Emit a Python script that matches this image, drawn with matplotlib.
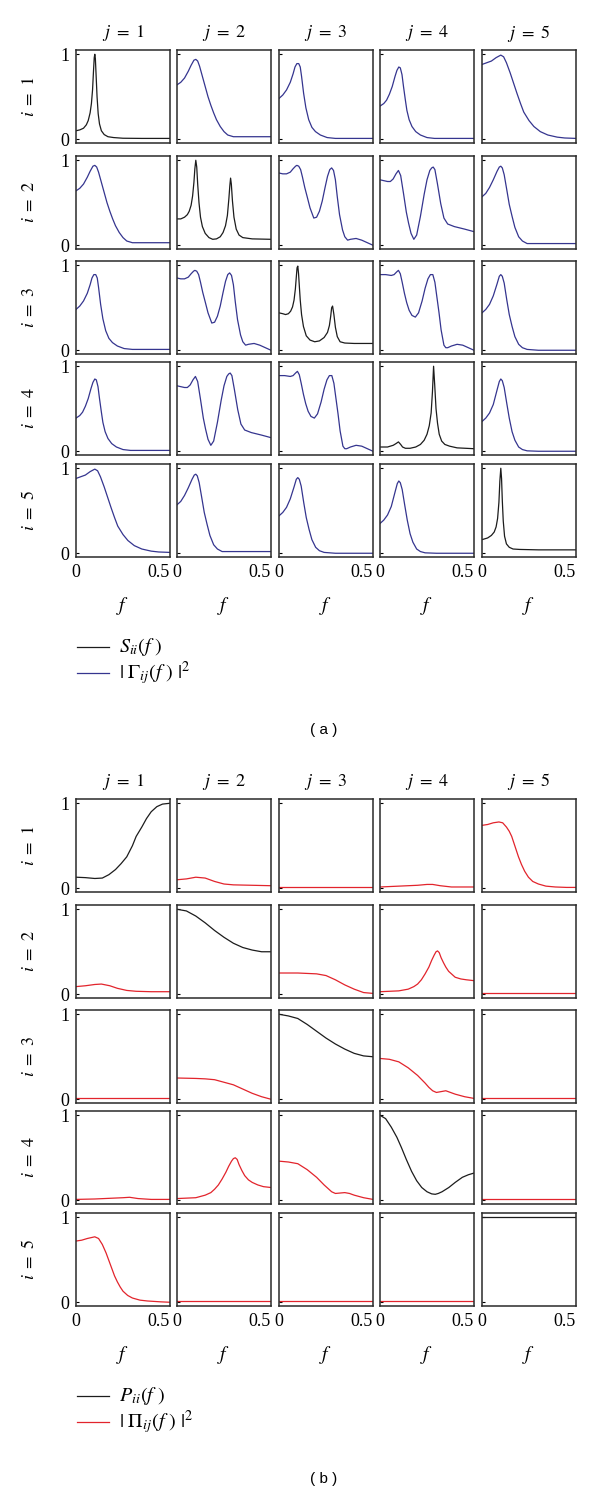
import matplotlib
matplotlib.use("Agg")
import matplotlib.pyplot as plt
from matplotlib.transforms import ScaledTranslation

plt.rcParams["font.family"] = ["Liberation Serif", "DejaVu Serif"]
plt.rcParams["mathtext.fontset"] = "stix"

BLACK = "#1c1c1c"
BLUE = "#35358f"
RED = "#e2242c"
FRAME = "#2a2a2a"

# ---- panel (a): S_ii(f) on the diagonal, |Gamma_ij(f)|^2 off it (symmetric) ----
F_A11 = [0, 0.02, 0.04, 0.055, 0.065, 0.075, 0.082, 0.088, 0.093, 0.097, 0.1, 0.103, 0.107, 0.112, 0.118, 0.125, 0.135, 0.15, 0.17, 0.2, 0.25, 0.35, 0.5]
Y_A11 = [0.10, 0.11, 0.13, 0.17, 0.22, 0.31, 0.42, 0.58, 0.8, 0.96, 1.0, 0.95, 0.75, 0.5, 0.3, 0.18, 0.1, 0.055, 0.03, 0.02, 0.012, 0.01, 0.01]
F_A12 = [0, 0.02, 0.04, 0.06, 0.075, 0.09, 0.1, 0.11, 0.12, 0.135, 0.15, 0.165, 0.18, 0.195, 0.21, 0.23, 0.25, 0.27, 0.3, 0.35, 0.5]
Y_A12 = [0.64, 0.67, 0.72, 0.8, 0.87, 0.93, 0.94, 0.92, 0.86, 0.74, 0.62, 0.5, 0.4, 0.31, 0.23, 0.15, 0.09, 0.05, 0.03, 0.03, 0.03]
F_A13 = [0, 0.02, 0.04, 0.06, 0.075, 0.085, 0.095, 0.105, 0.113, 0.12, 0.131, 0.143, 0.158, 0.175, 0.194, 0.22, 0.256, 0.3, 0.5]
Y_A13 = [0.48, 0.52, 0.58, 0.67, 0.77, 0.85, 0.89, 0.89, 0.85, 0.74, 0.54, 0.37, 0.23, 0.14, 0.09, 0.05, 0.02, 0.01, 0.01]
F_A14 = [0, 0.02, 0.035, 0.05, 0.065, 0.08, 0.09, 0.1, 0.108, 0.117, 0.125, 0.135, 0.143, 0.155, 0.17, 0.19, 0.215, 0.25, 0.29, 0.5]
Y_A14 = [0.39, 0.42, 0.46, 0.53, 0.62, 0.74, 0.81, 0.85, 0.84, 0.76, 0.62, 0.46, 0.34, 0.23, 0.15, 0.09, 0.05, 0.02, 0.01, 0.01]
F_A15 = [0, 0.025, 0.05, 0.075, 0.1, 0.115, 0.13, 0.15, 0.168, 0.186, 0.205, 0.222, 0.25, 0.276, 0.31, 0.35, 0.4, 0.44, 0.5]
Y_A15 = [0.88, 0.9, 0.92, 0.96, 0.99, 0.97, 0.9, 0.78, 0.66, 0.54, 0.42, 0.32, 0.22, 0.15, 0.09, 0.05, 0.025, 0.015, 0.01]
F_A22 = [0, 0.02, 0.04, 0.055, 0.065, 0.075, 0.083, 0.09, 0.095, 0.1, 0.105, 0.11, 0.117, 0.125, 0.135, 0.15, 0.17,
         0.19, 0.21, 0.23, 0.245, 0.258, 0.268, 0.276, 0.281, 0.285, 0.289, 0.295, 0.303, 0.315, 0.33, 0.35, 0.4, 0.5]
Y_A22 = [0.31, 0.31, 0.33, 0.36, 0.4, 0.47, 0.58, 0.74, 0.9, 1.0, 0.92, 0.72, 0.5, 0.33, 0.22, 0.14, 0.09,
         0.07, 0.075, 0.1, 0.15, 0.23, 0.35, 0.55, 0.7, 0.79, 0.72, 0.52, 0.33, 0.19, 0.12, 0.09, 0.075, 0.07]
F_A23 = [0, 0.02, 0.04, 0.06, 0.075, 0.088, 0.095, 0.105, 0.115, 0.125, 0.137, 0.15, 0.165, 0.185, 0.2, 0.215, 0.23,
         0.245, 0.258, 0.27, 0.28, 0.29, 0.3, 0.31, 0.322, 0.338, 0.35, 0.365, 0.38, 0.41, 0.44, 0.47, 0.5]
Y_A23 = [0.85, 0.84, 0.84, 0.86, 0.9, 0.93, 0.94, 0.93, 0.89, 0.8, 0.68, 0.57, 0.44, 0.32, 0.33, 0.4, 0.52,
         0.68, 0.81, 0.89, 0.91, 0.88, 0.77, 0.57, 0.36, 0.18, 0.1, 0.06, 0.07, 0.08, 0.06, 0.03, 0.0]
F_A24 = [0, 0.02, 0.04, 0.055, 0.07, 0.085, 0.098, 0.11, 0.125, 0.14, 0.152, 0.165, 0.18, 0.195, 0.215, 0.235,
         0.25, 0.265, 0.275, 0.283, 0.292, 0.305, 0.323, 0.34, 0.36, 0.395, 0.45, 0.5]
Y_A24 = [0.77, 0.76, 0.75, 0.75, 0.78, 0.84, 0.88, 0.82, 0.61, 0.39, 0.26, 0.14, 0.07, 0.12, 0.34, 0.6,
         0.77, 0.88, 0.91, 0.92, 0.89, 0.73, 0.49, 0.32, 0.25, 0.22, 0.19, 0.16]
F_A25 = [0, 0.02, 0.04, 0.06, 0.08, 0.092, 0.1, 0.108, 0.118, 0.132, 0.145, 0.16, 0.175, 0.195, 0.215, 0.24, 0.3, 0.5]
Y_A25 = [0.57, 0.61, 0.68, 0.77, 0.87, 0.92, 0.93, 0.91, 0.83, 0.65, 0.48, 0.34, 0.21, 0.1, 0.05, 0.02, 0.02, 0.02]
F_A33 = [0, 0.02, 0.035, 0.05, 0.062, 0.072, 0.08, 0.087, 0.092, 0.096, 0.1, 0.104, 0.108, 0.113, 0.12, 0.13, 0.145,
         0.165, 0.19, 0.215, 0.24, 0.258, 0.268, 0.275, 0.28, 0.285, 0.292, 0.3, 0.31, 0.325, 0.35, 0.4, 0.5]
Y_A33 = [0.44, 0.43, 0.42, 0.43, 0.46, 0.51, 0.59, 0.72, 0.86, 0.97, 0.99, 0.9, 0.76, 0.59, 0.42, 0.28, 0.17,
         0.12, 0.1, 0.11, 0.15, 0.21, 0.29, 0.4, 0.5, 0.52, 0.42, 0.27, 0.16, 0.1, 0.085, 0.08, 0.08]
F_A34 = [0, 0.03, 0.06, 0.075, 0.088, 0.098, 0.108, 0.118, 0.13, 0.142, 0.155, 0.17, 0.188, 0.205, 0.224, 0.24,
         0.255, 0.268, 0.281, 0.292, 0.303, 0.314, 0.325, 0.34, 0.35, 0.36, 0.38, 0.41, 0.44, 0.47, 0.5]
Y_A34 = [0.89, 0.89, 0.88, 0.89, 0.92, 0.94, 0.9, 0.8, 0.67, 0.56, 0.47, 0.41, 0.39, 0.44, 0.58, 0.73,
         0.84, 0.89, 0.89, 0.8, 0.62, 0.44, 0.24, 0.06, 0.03, 0.03, 0.05, 0.07, 0.06, 0.03, 0.0]
F_A35 = [0, 0.02, 0.04, 0.06, 0.08, 0.092, 0.1, 0.108, 0.118, 0.132, 0.145, 0.16, 0.175, 0.195, 0.215, 0.24, 0.3, 0.5]
Y_A35 = [0.44, 0.48, 0.54, 0.64, 0.78, 0.87, 0.89, 0.87, 0.79, 0.59, 0.42, 0.28, 0.16, 0.07, 0.03, 0.01, 0.0, 0.0]
F_A44 = [0, 0.04, 0.07, 0.085, 0.098, 0.11, 0.12, 0.135, 0.16, 0.19, 0.215, 0.235, 0.25, 0.262, 0.272, 0.279, 0.285,
         0.291, 0.298, 0.306, 0.315, 0.328, 0.345, 0.37, 0.41, 0.5]
Y_A44 = [0.05, 0.05, 0.07, 0.09, 0.11, 0.08, 0.05, 0.035, 0.035, 0.05, 0.08, 0.13, 0.2, 0.3, 0.45, 0.7, 1.0,
         0.78, 0.5, 0.33, 0.2, 0.12, 0.08, 0.06, 0.04, 0.03]
F_A45 = [0, 0.02, 0.04, 0.06, 0.08, 0.092, 0.1, 0.108, 0.118, 0.132, 0.145, 0.16, 0.175, 0.195, 0.215, 0.24, 0.3, 0.5]
Y_A45 = [0.35, 0.39, 0.45, 0.55, 0.72, 0.82, 0.85, 0.83, 0.75, 0.56, 0.39, 0.23, 0.13, 0.05, 0.02, 0.005, 0.0, 0.0]
F_A55 = [0, 0.03, 0.05, 0.065, 0.075, 0.083, 0.09, 0.095, 0.1, 0.104, 0.108, 0.113, 0.12, 0.13, 0.145, 0.165, 0.2, 0.3, 0.5]
Y_A55 = [0.16, 0.18, 0.21, 0.25, 0.31, 0.41, 0.6, 0.85, 1.0, 0.88, 0.62, 0.38, 0.2, 0.11, 0.07, 0.05, 0.045, 0.04, 0.04]

# ---- panel (b): P_ii(f) on the diagonal, |Pi_ij(f)|^2 off it ----
FLAT_F = [0, 0.5]
FLAT_Y = [0.01, 0.01]
F_B11 = [0, 0.05, 0.1, 0.14, 0.175, 0.21, 0.24, 0.27, 0.3, 0.32, 0.35, 0.375, 0.4, 0.43, 0.46, 0.5]
Y_B11 = [0.13, 0.125, 0.115, 0.12, 0.16, 0.22, 0.29, 0.37, 0.5, 0.61, 0.72, 0.82, 0.9, 0.96, 0.99, 1.0]
F_B12 = [0, 0.05, 0.1, 0.15, 0.2, 0.25, 0.3, 0.4, 0.5]
Y_B12 = [0.1, 0.11, 0.13, 0.12, 0.08, 0.05, 0.04, 0.035, 0.03]
F_B14 = [0, 0.1, 0.2, 0.25, 0.28, 0.32, 0.38, 0.5]
Y_B14 = [0.015, 0.025, 0.035, 0.045, 0.045, 0.03, 0.015, 0.015]
F_B15 = [0, 0.03, 0.06, 0.09, 0.11, 0.13, 0.145, 0.158, 0.17, 0.182, 0.194, 0.21, 0.227, 0.247, 0.27, 0.3, 0.34, 0.39, 0.45, 0.5]
Y_B15 = [0.74, 0.75, 0.77, 0.78, 0.77, 0.72, 0.67, 0.61, 0.53, 0.45, 0.37, 0.28, 0.2, 0.13, 0.08, 0.05, 0.025, 0.015, 0.01, 0.01]
F_B21 = [0, 0.05, 0.1, 0.135, 0.18, 0.22, 0.27, 0.32, 0.4, 0.5]
Y_B21 = [0.09, 0.1, 0.115, 0.12, 0.1, 0.07, 0.045, 0.035, 0.03, 0.03]
F_B22 = [0, 0.05, 0.1, 0.15, 0.2, 0.25, 0.3, 0.35, 0.4, 0.45, 0.5]
Y_B22 = [1.0, 0.98, 0.92, 0.84, 0.75, 0.67, 0.6, 0.55, 0.52, 0.5, 0.5]
F_B23 = [0, 0.1, 0.2, 0.25, 0.3, 0.35, 0.4, 0.45, 0.5]
Y_B23 = [0.25, 0.25, 0.24, 0.22, 0.17, 0.11, 0.06, 0.02, 0.01]
F_B24 = [0, 0.1, 0.15, 0.18, 0.2, 0.22, 0.24, 0.26, 0.275, 0.288, 0.298, 0.306, 0.315, 0.325, 0.338, 0.35, 0.365,
         0.38, 0.4, 0.43, 0.46, 0.5]
Y_B24 = [0.03, 0.04, 0.06, 0.09, 0.12, 0.17, 0.24, 0.32, 0.4, 0.46, 0.5, 0.51, 0.49, 0.43, 0.37, 0.32, 0.27,
         0.24, 0.2, 0.18, 0.17, 0.16]
F_B32 = [0, 0.1, 0.15, 0.2, 0.25, 0.3, 0.35, 0.4, 0.45, 0.5]
Y_B32 = [0.25, 0.245, 0.24, 0.23, 0.2, 0.17, 0.12, 0.07, 0.03, 0.0]
F_B33 = [0, 0.05, 0.1, 0.15, 0.2, 0.25, 0.3, 0.35, 0.4, 0.45, 0.5]
Y_B33 = [1.0, 0.98, 0.95, 0.88, 0.8, 0.72, 0.65, 0.59, 0.54, 0.51, 0.5]
F_B34 = [0, 0.05, 0.1, 0.15, 0.2, 0.24, 0.26, 0.28, 0.3, 0.325, 0.35, 0.375, 0.4, 0.45, 0.5]
Y_B34 = [0.48, 0.47, 0.44, 0.37, 0.28, 0.19, 0.14, 0.1, 0.08, 0.09, 0.1, 0.08, 0.06, 0.03, 0.01]
F_B41 = [0, 0.1, 0.2, 0.25, 0.285, 0.33, 0.4, 0.5]
Y_B41 = [0.01, 0.015, 0.025, 0.03, 0.035, 0.02, 0.01, 0.01]
F_B42 = [0, 0.1, 0.15, 0.18, 0.2, 0.22, 0.24, 0.26, 0.275, 0.29, 0.3, 0.31, 0.32, 0.33, 0.345, 0.36, 0.38, 0.4,
         0.43, 0.46, 0.5]
Y_B42 = [0.02, 0.03, 0.06, 0.09, 0.13, 0.18, 0.25, 0.33, 0.4, 0.46, 0.49, 0.5, 0.48, 0.42, 0.35, 0.29, 0.24, 0.21,
         0.18, 0.16, 0.15]
F_B43 = [0, 0.05, 0.1, 0.15, 0.2, 0.24, 0.26, 0.28, 0.3, 0.325, 0.35, 0.375, 0.4, 0.45, 0.5]
Y_B43 = [0.46, 0.45, 0.43, 0.36, 0.27, 0.18, 0.14, 0.1, 0.08, 0.085, 0.09, 0.08, 0.06, 0.03, 0.01]
F_B44 = [0, 0.03, 0.06, 0.09, 0.114, 0.14, 0.168, 0.195, 0.222, 0.25, 0.275, 0.294, 0.31, 0.33, 0.366, 0.4, 0.438, 0.47, 0.5]
Y_B44 = [1.0, 0.96, 0.86, 0.74, 0.62, 0.48, 0.34, 0.23, 0.15, 0.1, 0.075, 0.07, 0.08, 0.1, 0.15, 0.21, 0.27, 0.3, 0.32]
F_B51 = [0, 0.03, 0.06, 0.1, 0.12, 0.14, 0.16, 0.175, 0.19, 0.205, 0.22, 0.235, 0.25, 0.275, 0.3, 0.34, 0.38, 0.45, 0.5]
Y_B51 = [0.72, 0.73, 0.75, 0.77, 0.75, 0.68, 0.58, 0.49, 0.4, 0.31, 0.24, 0.18, 0.13, 0.08, 0.05, 0.025, 0.015, 0.005, 0.0]
F_B55 = [0, 0.5]
Y_B55 = [1.0, 1.0]

A_GRID = [
    [(F_A11, Y_A11), (F_A12, Y_A12), (F_A13, Y_A13), (F_A14, Y_A14), (F_A15, Y_A15)],
    [(F_A12, Y_A12), (F_A22, Y_A22), (F_A23, Y_A23), (F_A24, Y_A24), (F_A25, Y_A25)],
    [(F_A13, Y_A13), (F_A23, Y_A23), (F_A33, Y_A33), (F_A34, Y_A34), (F_A35, Y_A35)],
    [(F_A14, Y_A14), (F_A24, Y_A24), (F_A34, Y_A34), (F_A44, Y_A44), (F_A45, Y_A45)],
    [(F_A15, Y_A15), (F_A25, Y_A25), (F_A35, Y_A35), (F_A45, Y_A45), (F_A55, Y_A55)],
]
B_GRID = [
    [(F_B11, Y_B11), (F_B12, Y_B12), (FLAT_F, FLAT_Y), (F_B14, Y_B14), (F_B15, Y_B15)],
    [(F_B21, Y_B21), (F_B22, Y_B22), (F_B23, Y_B23), (F_B24, Y_B24), (FLAT_F, FLAT_Y)],
    [(FLAT_F, FLAT_Y), (F_B32, Y_B32), (F_B33, Y_B33), (F_B34, Y_B34), (FLAT_F, FLAT_Y)],
    [(F_B41, Y_B41), (F_B42, Y_B42), (F_B43, Y_B43), (F_B44, Y_B44), (FLAT_F, FLAT_Y)],
    [(F_B51, Y_B51), (FLAT_F, FLAT_Y), (FLAT_F, FLAT_Y), (FLAT_F, FLAT_Y), (F_B55, Y_B55)],
]

W, H = 600, 1495
COL_LEFT = [76, 177, 279, 380, 482]
ROW_TOP = [50, 156, 261, 362, 464]
BOX_W, BOX_H = 94, 93
PANEL_B_SHIFT = 749

fig = plt.figure(figsize=(W / 100, H / 100), dpi=100, facecolor="white")


def fy(y_px):
    return 1 - y_px / H


def draw_panel(grid, off_color, dy, diag_label, off_label, tag):
    for r in range(5):
        for c in range(5):
            top = ROW_TOP[r] + dy
            ax = fig.add_axes([COL_LEFT[c] / W, fy(top + BOX_H), BOX_W / W, BOX_H / H])
            f, y = grid[r][c]
            ax.plot(f, y, color=BLACK if r == c else off_color, lw=0.9, solid_joinstyle="round")
            ax.set_xlim(0, 0.5)
            ax.set_ylim(-0.044, 1.05)
            for sp in ax.spines.values():
                sp.set_color(FRAME)
                sp.set_linewidth(1.1)
            ax.set_yticks([0, 1])
            ax.set_yticklabels(["0", "1"] if c == 0 else [])
            ax.tick_params(axis="y", direction="in", length=2, width=0.8, pad=5, labelsize=13)
            ax.set_xticks([0, 0.5])
            if r == 4:
                labels = ax.set_xticklabels(["0", "0.5"])
                labels[1].set_horizontalalignment("right")
                labels[1].set_transform(labels[1].get_transform() + ScaledTranslation(0.048, 0, fig.dpi_scale_trans))
            else:
                ax.set_xticklabels([])
            ax.tick_params(axis="x", length=0, pad=5, labelsize=13)

    for c in range(5):
        xc = (COL_LEFT[c] + BOX_W / 2) / W
        fig.text(xc, fy(ROW_TOP[0] + dy - 17), rf"$j\ =\ {c + 1}$", ha="center", va="center", fontsize=13)
        fig.text(xc, fy(ROW_TOP[4] + BOX_H + dy + 49), r"$f$", ha="center", va="center", fontsize=14)
    for r in range(5):
        fig.text(30 / W, fy(ROW_TOP[r] + dy + BOX_H / 2), rf"$i\ =\ {r + 1}$", ha="center", va="center",
                 rotation=90, fontsize=13)

    # legend
    base = ROW_TOP[4] + BOX_H + dy
    for k, (col, lab) in enumerate([(BLACK, diag_label), (off_color, off_label)]):
        yl = fy(base + 90 + 26 * k)
        fig.add_artist(plt.Line2D([77 / W, 109 / W], [yl, yl], color=col, lw=0.9))
        fig.text(119 / W, yl, lab, ha="left", va="center", fontsize=14.5)

    fig.text(324 / W, fy(base + 173), tag, ha="center", va="center", fontsize=11,
             family=["Liberation Sans", "DejaVu Sans"])


draw_panel(A_GRID, BLUE, 0, r"$S_{ii}(f\ )$", r"$|\ \Gamma_{ij}(f\ )\ |^{2}$", "( a )")
draw_panel(B_GRID, RED, PANEL_B_SHIFT, r"$P_{ii}(f\ )$", r"$|\ \Pi_{ij}(f\ )\ |^{2}$", "( b )")

fig.savefig("out.png", dpi=100, facecolor="white")
